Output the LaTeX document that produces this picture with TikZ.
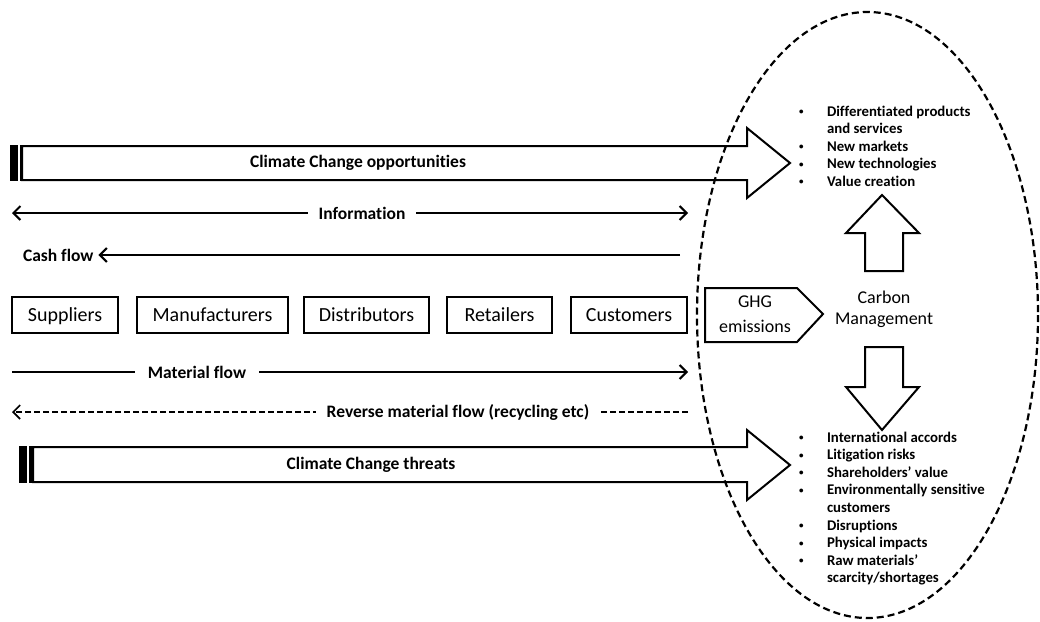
\documentclass[tikz,border=0pt]{standalone}
\usepackage{fontspec}
\setmainfont{Carlito}[Ligatures={NoCommon}]
\usetikzlibrary{arrows.meta}
\newcommand{\smbul}{\raisebox{1.5pt}{\fontsize{9}{9}\selectfont\textbullet}}
\begin{document}
\begin{tikzpicture}[x=1pt,y=-1pt, line width=2pt,
  box/.style={draw, line width=2pt, minimum height=36pt, inner sep=0pt, text height=15pt, text depth=2pt, font=\fontsize{20}{24}\selectfont},
  lbl/.style={font=\fontsize{17.5}{21}\bfseries\selectfont, inner sep=0pt},
  flowlbl/.style={lbl, fill=white, inner xsep=11pt, inner ysep=3pt},
  barb/.style={-{Straight Barb[length=7pt,width=14pt]}},
  bigarrow/.style={draw, line width=2pt, line join=miter, fill=white},
  listfont/.style={font=\fontsize{14.8}{17.6}\bfseries\selectfont, inner sep=0pt, align=left},
  plain/.style={font=\fontsize{18}{25}\selectfont, inner sep=0pt, align=center}
]
\useasboundingbox (0,0) rectangle (1040,621);

% ---- Climate change opportunities (striped block arrow)
\path[bigarrow] (22,146) -- (747,146) -- (747,128) -- (790,163) -- (747,198) -- (747,180) -- (22,180) -- cycle;
\fill (10,145) rectangle (17.5,181);
\fill (19.5,145) rectangle (22,181);
\node[lbl] (opp) at (358,163) {Climate Change opportunities};

% ---- Climate change threats
\path[bigarrow] (33,447) -- (747,447) -- (747,430) -- (790,465) -- (747,500) -- (747,482) -- (33,482) -- cycle;
\fill (19,446) rectangle (27,483);
\fill (29,446) rectangle (33,483);
\node[lbl] (thr) at (371,465) {Climate Change threats};

% ---- Information
\coordinate (infoL) at (12,213);
\coordinate (infoR) at (688,213);
\draw[{Straight Barb[length=7pt,width=14pt]}-{Straight Barb[length=7pt,width=14pt]}] (infoL) -- (infoR);
\node[flowlbl] (info) at (362,213) {Information};

% ---- Cash flow
\node[lbl, anchor=west] (cash) at (22,255) {Cash flow};
\coordinate (cashR) at (680,255);
\draw[barb] (cashR) -- ([xshift=4pt]cash.east);

% ---- Supply chain boxes
\node[box, minimum width=106pt] (sup) at (65,315) {Suppliers};
\node[box, minimum width=151pt] (man) at (212.5,315) {Manufacturers};
\node[box, minimum width=125pt] (dis) at (366.5,315) {Distributors};
\node[box, minimum width=105pt] (ret) at (499.5,315) {Retailers};
\node[box, minimum width=116pt] (cus) at (629,315) {Customers};

% ---- Material flow
\coordinate (matL) at (12,372);
\coordinate (matR) at (688,372);
\draw[barb] (matL) -- (matR);
\node[flowlbl, inner xsep=13pt] (mat) at (197,372) {Material flow};

% ---- Reverse material flow
\coordinate (revR) at (688,412);
\coordinate (revL) at (12,412);
\draw[barb, line width=1.6pt, dash pattern=on 6pt off 3pt] (revR) -- (revL);
\node[flowlbl] (rev) at (458,412) {Reverse material flow (recycling etc)};

% ---- GHG emissions
\path[draw, line width=2pt, line join=miter] (705,288) -- (797,288) -- (823,314) -- (797,342) -- (705,342) -- cycle;
\node[plain] (ghg) at (755,314) {GHG\\emissions};

% ---- Carbon management
\node[plain, font=\fontsize{18}{21}\selectfont] (cm) at (884,309) {Carbon\\Management};

% up and down block arrows
\path[bigarrow] (865,271) -- (865,233) -- (846,233) -- (882,195) -- (919,233) -- (903,233) -- (903,271) -- cycle;
\path[bigarrow] (865,347) -- (903,347) -- (903,387) -- (919,387) -- (882,430) -- (846,387) -- (865,387) -- cycle;

% ---- Lists
\node[listfont, anchor=base west] (opplist) at (798,116) {%
\begin{tabular}[t]{@{}p{28pt}@{}l@{}}
\smbul & Differentiated products\\
 & and services\\
\smbul & New markets\\
\smbul & New technologies\\
\smbul & Value creation
\end{tabular}};

\node[listfont, anchor=base west] (thrlist) at (798,442) {%
\begin{tabular}[t]{@{}p{28pt}@{}l@{}}
\smbul & International accords\\
\smbul & Litigation risks\\
\smbul & Shareholders’ value\\
\smbul & Environmentally sensitive\\
 & customers\\
\smbul & Disruptions\\
\smbul & Physical impacts\\
\smbul & Raw materials’\\
 & scarcity/shortages
\end{tabular}};

% ---- Dashed ellipse
\draw[line width=2.2pt, dash pattern=on 7pt off 4pt] (867.5,315) ellipse [x radius=170.5, y radius=303];
\end{tikzpicture}
\end{document}
